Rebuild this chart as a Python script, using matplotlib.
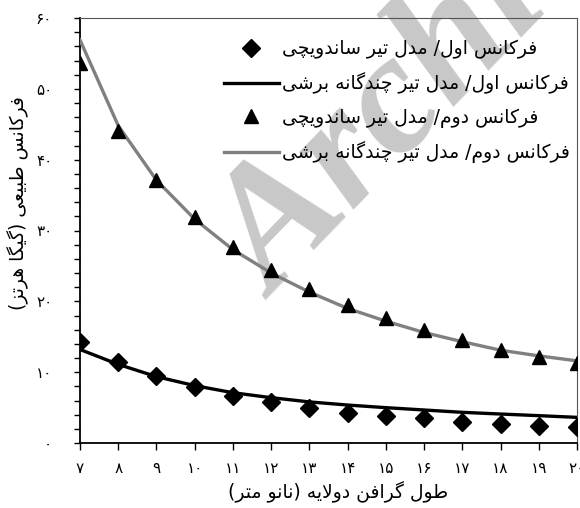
import matplotlib
matplotlib.use("Agg")
import matplotlib.pyplot as plt
from matplotlib.ticker import MultipleLocator, FixedLocator, FuncFormatter

# graphene length (nm)
length = [7, 8, 9, 10, 11, 12, 13, 14, 15, 16, 17, 18, 19, 20]

# natural frequencies (GHz)
f1_sandwich = [14.3, 11.5, 9.46, 7.95, 6.64, 5.79, 4.9, 4.19, 3.81, 3.48, 3.01, 2.73, 2.40, 2.26]
f1_multi = [13.2, 11.1, 9.37, 8.1, 7.1, 6.4, 5.8, 5.36, 4.99, 4.66, 4.33, 4.09, 3.86, 3.62]
f2_sandwich = [53.7, 44.0, 37.1, 31.9, 27.7, 24.4, 21.8, 19.5, 17.6, 16.0, 14.5, 13.2, 12.2, 11.25]
f2_multi = [56.9, 44.8, 37.1, 31.6, 27.3, 24.0, 21.3, 19.0, 17.2, 15.6, 14.3, 13.1, 12.3, 11.6]

labels = [
    "فرکانس اول/ مدل تیر ساندویچی",
    "فرکانس اول/ مدل تیر چندگانه برشی",
    "فرکانس دوم/ مدل تیر ساندویچی",
    "فرکانس دوم/ مدل تیر چندگانه برشی",
]
xlabel = "طول گرافن دولایه (نانو متر)"
ylabel = "فرکانس طبیعی (گیگا هرتز)"

# --- minimal arabic/persian shaping (matplotlib draws glyphs left to right) ---
# letter: (isolated, final, initial, medial)
FORMS = {
    'ا': (0xFE8D, 0xFE8E, None, None),
    'د': (0xFEA9, 0xFEAA, None, None),
    'ر': (0xFEAD, 0xFEAE, None, None),
    'ز': (0xFEAF, 0xFEB0, None, None),
    'و': (0xFEED, 0xFEEE, None, None),
    'ب': (0xFE8F, 0xFE90, 0xFE91, 0xFE92),
    'ت': (0xFE95, 0xFE96, 0xFE97, 0xFE98),
    'س': (0xFEB1, 0xFEB2, 0xFEB3, 0xFEB4),
    'ش': (0xFEB5, 0xFEB6, 0xFEB7, 0xFEB8),
    'ط': (0xFEC1, 0xFEC2, 0xFEC3, 0xFEC4),
    'ع': (0xFEC9, 0xFECA, 0xFECB, 0xFECC),
    'ف': (0xFED1, 0xFED2, 0xFED3, 0xFED4),
    'ل': (0xFEDD, 0xFEDE, 0xFEDF, 0xFEE0),
    'م': (0xFEE1, 0xFEE2, 0xFEE3, 0xFEE4),
    'ن': (0xFEE5, 0xFEE6, 0xFEE7, 0xFEE8),
    'ه': (0xFEE9, 0xFEEA, 0xFEEB, 0xFEEC),
    'ک': (0xFB8E, 0xFB8F, 0xFB90, 0xFB91),
    'گ': (0xFB92, 0xFB93, 0xFB94, 0xFB95),
    'چ': (0xFB7A, 0xFB7B, 0xFB7C, 0xFB7D),
    'ی': (0xFBFC, 0xFBFD, 0xFBFE, 0xFBFF),
}
MIRROR = {'(': ')', ')': '('}


def dual(c):
    return c in FORMS and FORMS[c][2] is not None


def shape(text):
    out = []
    i = 0
    n = len(text)
    while i < n:
        c = text[i]
        if c not in FORMS:
            out.append(MIRROR.get(c, c))
            i += 1
            continue
        joins_prev = i > 0 and dual(text[i - 1])
        if c == 'ل' and i + 1 < n and text[i + 1] == 'ا':
            out.append(chr(0xFEFC if joins_prev else 0xFEFB))
            i += 2
            continue
        joins_next = dual(c) and i + 1 < n and text[i + 1] in FORMS
        iso, fin, ini, med = FORMS[c]
        if joins_prev and joins_next:
            g = med
        elif joins_prev:
            g = fin
        elif joins_next:
            g = ini
        else:
            g = iso
        out.append(chr(g))
        i += 1
    return ''.join(reversed(out))


def fa_num(v, pos=None):
    return str(int(round(v))).translate(str.maketrans('0123456789', '۰۱۲۳۴۵۶۷۸۹'))


plt.rcParams['font.family'] = ['DejaVu Sans']

fig = plt.figure(figsize=(5.8, 5.08), dpi=100)
ax = fig.add_axes([80 / 580, 1 - 443 / 508, 497 / 580, 425 / 508])

# watermark behind the data
ax.text(275 / 580, 1 - 300 / 508, "Archive of SID", transform=fig.transFigure,
        rotation=46, rotation_mode='anchor', ha='left', va='baseline',
        fontsize=124, family='Liberation Serif', weight='bold', style='italic',
        color='#c8c8c8', zorder=0.5, clip_on=False)

ax.plot(length, f1_sandwich, linestyle='none', marker='D', markersize=9,
        color='black', label=shape(labels[0]), zorder=4)
ax.plot(length, f1_multi, color='black', linewidth=2.4, label=shape(labels[1]), zorder=3)
ax.plot(length, f2_sandwich, linestyle='none', marker='^', markersize=10,
        color='black', label=shape(labels[2]), zorder=4)
ax.plot(length, f2_multi, color='#808080', linewidth=2.4, label=shape(labels[3]), zorder=3)

ax.set_xlim(7, 20)
ax.set_ylim(0, 60)
ax.xaxis.set_major_locator(FixedLocator(length))
ax.yaxis.set_major_locator(MultipleLocator(10))
ax.yaxis.set_minor_locator(MultipleLocator(2))
ax.xaxis.set_major_formatter(FuncFormatter(fa_num))
ax.yaxis.set_major_formatter(FuncFormatter(fa_num))
ax.tick_params(axis='y', which='both', direction='out', length=4, width=1, pad=16, labelsize=11)
ax.tick_params(axis='x', which='major', direction='out', length=5, width=1, pad=8, labelsize=11)

for s in ['left', 'bottom']:
    ax.spines[s].set_linewidth(1.3)
for s in ['top', 'right']:
    ax.spines[s].set_linewidth(0.8)
    ax.spines[s].set_color('#555555')

fig.text(338 / 580, 1 - 492 / 508, shape(xlabel), ha='center', va='center', fontsize=13.5)
fig.text(18 / 580, 1 - 203 / 508, shape(ylabel), ha='center', va='center',
         rotation=90, fontsize=13.5)

ax.legend(loc='upper left', bbox_to_anchor=(216 / 580, 1 - 32 / 508),
          bbox_transform=fig.transFigure, frameon=False, fontsize=13.5,
          handlelength=2.95, handletextpad=0.17, labelspacing=0.72, borderaxespad=0)

fig.savefig('out.png', dpi=100)
